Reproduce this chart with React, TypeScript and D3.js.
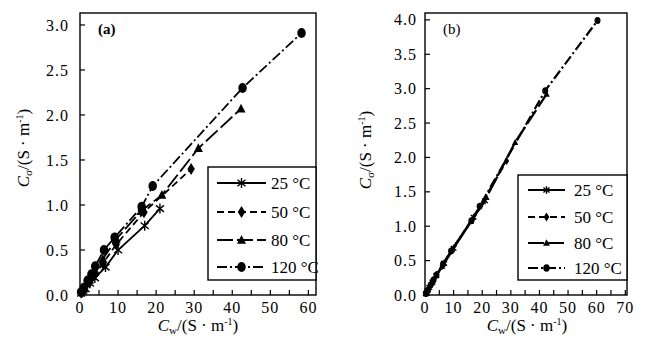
import React from "react";
import * as d3 from "d3";

// ---------- data ----------
const seriesLabels = ["25 °C", "50 °C", "80 °C", "120 °C"];
const seriesMarkers = ["asterisk", "diamond", "triangle", "circle"];

// panel (a)
const a25x = [0.3, 0.8, 1.5, 2.6, 3.9, 6.7, 10, 17, 21];
const a25y = [0.02, 0.04, 0.07, 0.13, 0.19, 0.31, 0.5, 0.77, 0.96];
const a50x = [0.5, 1.2, 2.5, 4, 6, 9.5, 16.8, 29.2];
const a50y = [0.03, 0.07, 0.14, 0.23, 0.35, 0.56, 0.92, 1.4];
const a80x = [1, 2.5, 4, 6, 9.5, 16, 21.5, 31.1, 42.3];
const a80y = [0.07, 0.17, 0.27, 0.4, 0.62, 0.93, 1.11, 1.63, 2.07];
const a120x = [0.3, 1, 2, 3, 4, 6.3, 9.1, 16.2, 19.1, 42.7, 58.2];
const a120y = [0.03, 0.08, 0.16, 0.23, 0.32, 0.5, 0.64, 0.98, 1.21, 2.3, 2.91];

// panel (b)
const b25x = [0.3, 0.8, 1.5, 2.6, 3.9, 6.7, 10, 17, 21];
const b25y = [0.02, 0.06, 0.11, 0.19, 0.28, 0.46, 0.68, 1.13, 1.37];
const b50x = [0.5, 1.2, 2.5, 4, 6, 9.5, 16.8, 28.5];
const b50y = [0.04, 0.09, 0.18, 0.29, 0.42, 0.66, 1.11, 1.95];
const b80x = [1, 2.5, 4, 6, 9.5, 16, 21.5, 31.5, 42.5];
const b80y = [0.08, 0.18, 0.29, 0.42, 0.66, 1.07, 1.42, 2.22, 2.92];
const b120x = [0.3, 1, 2, 3, 4, 6.3, 9.1, 16.2, 19.1, 42, 60.3];
const b120y = [0.02, 0.07, 0.15, 0.22, 0.29, 0.45, 0.64, 1.08, 1.29, 2.97, 3.99];

// ticks
const aXTicks = [0, 10, 20, 30, 40, 50, 60];
const aYTicks = ["0.0", "0.5", "1.0", "1.5", "2.0", "2.5", "3.0"];
const bXTicks = [0, 10, 20, 30, 40, 50, 60, 70];
const bYTicks = ["0.0", "0.5", "1.0", "1.5", "2.0", "2.5", "3.0", "3.5", "4.0"];

// ---------- styles ----------
const FONT = "'Liberation Serif', 'Times New Roman', serif";
const dashes = [null, "7,4", "16,4", "10,3,2,3"];

function zip(xs: number[], ys: number[]) {
  return xs.map((x, i) => [x, ys[i]] as [number, number]);
}

function Marker({ type, cx, cy, r }: { type: string; cx: number; cy: number; r: number }) {
  if (type === "asterisk") {
    const dx = r * 0.8, dy = r * 0.65;
    return (
      <g stroke="#000" strokeWidth={1.4} transform={`translate(${cx},${cy})`}>
        <line x1={0} y1={-r} x2={0} y2={r} />
        <line x1={-dx} y1={-dy} x2={dx} y2={dy} />
        <line x1={-dx} y1={dy} x2={dx} y2={-dy} />
      </g>
    );
  }
  if (type === "diamond") {
    return (
      <path
        d={`M${cx},${cy - r * 1.2}L${cx + r * 0.75},${cy}L${cx},${cy + r * 1.2}L${cx - r * 0.75},${cy}Z`}
        fill="#000"
      />
    );
  }
  if (type === "triangle") {
    return (
      <path d={`M${cx},${cy - r}L${cx + r * 0.9},${cy + r * 0.75}L${cx - r * 0.9},${cy + r * 0.75}Z`} fill="#000" />
    );
  }
  return <ellipse cx={cx} cy={cy} rx={r * 0.85} ry={r} fill="#000" />;
}

function AxisLabelX({ x, y, sub }: { x: number; y: number; sub: string }) {
  return (
    <text x={x} y={y} textAnchor="middle" fontSize={17} fontFamily={FONT}>
      <tspan fontStyle="italic">C</tspan>
      <tspan fontSize={11} dy={3}>{sub}</tspan>
      <tspan dy={-3}>/(S · m</tspan>
      <tspan fontSize={10} dy={-6}>-1</tspan>
      <tspan dy={6}>)</tspan>
    </text>
  );
}

function AxisLabelY({ x, y, sub }: { x: number; y: number; sub: string }) {
  return (
    <text
      transform={`translate(${x},${y}) rotate(-90)`}
      textAnchor="middle"
      fontSize={17}
      fontFamily={FONT}
    >
      <tspan fontStyle="italic">C</tspan>
      <tspan fontSize={11} dy={3}>{sub}</tspan>
      <tspan dy={-3}>/(S · m</tspan>
      <tspan fontSize={10} dy={-6}>-1</tspan>
      <tspan dy={6}>)</tspan>
    </text>
  );
}

type PanelProps = {
  xDomain: [number, number];
  yDomain: [number, number];
  left: number;
  right: number;
  top: number;
  bottom: number;
  xTicks: number[];
  yTicks: string[];
  series: [number, number][][];
  markerR: number;
  lineW: number;
  label: string;
  labelBold: boolean;
  legend: { x0: number; x1: number; y0: number; y1: number; rows: number[]; lx0: number; lx1: number; tx: number; mr: number };
  yLabelGap: number;
  xLabelPos: [number, number];
  yLabelPos: [number, number];
};

function Panel(p: PanelProps) {
  const x = d3.scaleLinear().domain(p.xDomain).range([p.left, p.right]);
  const y = d3.scaleLinear().domain(p.yDomain).range([p.bottom, p.top]);
  const minor = d3.range(0, p.xDomain[1], 5);
  const line = d3
    .line<[number, number]>()
    .x((d) => x(d[0]))
    .y((d) => y(d[1]));
  const lg = p.legend;
  return (
    <g>
      {p.series.map((s, i) => (
        <path
          key={"l" + i}
          d={line([[0, 0], ...s]) || ""}
          fill="none"
          stroke="#000"
          strokeWidth={p.lineW}
          strokeDasharray={dashes[i] || undefined}
        />
      ))}
      {p.series.map((s, i) =>
        s.map((d, j) => (
          <Marker key={`m${i}-${j}`} type={seriesMarkers[i]} cx={x(d[0])} cy={y(d[1])} r={p.markerR} />
        ))
      )}
      <rect
        x={p.left}
        y={p.top}
        width={p.right - p.left}
        height={p.bottom - p.top}
        fill="none"
        stroke="#000"
        strokeWidth={1.4}
      />
      {minor.map((t) => (
        <line key={"xt" + t} x1={x(t)} x2={x(t)} y1={p.bottom} y2={p.bottom - 5} stroke="#000" strokeWidth={1.2} />
      ))}
      {p.xTicks.map((t) => (
        <text key={"xl" + t} x={x(t)} y={p.bottom + 18} textAnchor="middle" fontSize={16} fontFamily={FONT} letterSpacing={1}>
          {t}
        </text>
      ))}
      {p.yTicks.map((t) => (
        <g key={"yt" + t}>
          <line x1={p.left} x2={p.left + 5} y1={y(+t)} y2={y(+t)} stroke="#000" strokeWidth={1.2} />
          <text
            x={p.left - p.yLabelGap}
            y={y(+t)}
            dy="0.35em"
            textAnchor="end"
            fontSize={16}
            fontFamily={FONT}
            letterSpacing={1}
          >
            {t}
          </text>
        </g>
      ))}
      <text x={p.left + 18} y={p.top + 21} fontSize={15} fontFamily={FONT} fontWeight={p.labelBold ? "bold" : "normal"}>
        {p.label}
      </text>
      <rect x={lg.x0} y={lg.y0} width={lg.x1 - lg.x0} height={lg.y1 - lg.y0} fill="#fff" stroke="#000" strokeWidth={1.4} />
      {seriesLabels.map((s, i) => (
        <g key={"lg" + i}>
          <line
            x1={lg.lx0}
            x2={lg.lx1}
            y1={lg.rows[i]}
            y2={lg.rows[i]}
            stroke="#000"
            strokeWidth={2}
            strokeDasharray={dashes[i] || undefined}
          />
          <Marker type={seriesMarkers[i]} cx={(lg.lx0 + lg.lx1) / 2} cy={lg.rows[i]} r={lg.mr} />
          <text x={lg.tx} y={lg.rows[i]} dy="0.35em" fontSize={17} fontFamily={FONT}>
            {s}
          </text>
        </g>
      ))}
      <AxisLabelX x={p.xLabelPos[0]} y={p.xLabelPos[1]} sub="w" />
      <AxisLabelY x={p.yLabelPos[0]} y={p.yLabelPos[1]} sub="σ" />
    </g>
  );
}

export default function App() {
  const seriesA = [zip(a25x, a25y), zip(a50x, a50y), zip(a80x, a80y), zip(a120x, a120y)];
  const seriesB = [zip(b25x, b25y), zip(b50x, b50y), zip(b80x, b80y), zip(b120x, b120y)];
  return (
    <svg width={655} height={352} style={{ position: "absolute", left: 0, top: 0, background: "#fff" }}>
      <rect width={655} height={352} fill="#fff" />
      <Panel
        xDomain={[0, 62]}
        yDomain={[0, 3.133]}
        left={80}
        right={316}
        top={13}
        bottom={295}
        xTicks={aXTicks}
        yTicks={aYTicks}
        series={seriesA}
        markerR={5}
        lineW={1.8}
        label="(a)"
        labelBold={true}
        legend={{ x0: 208, x1: 316, y0: 167, y1: 280, rows: [183, 212, 240, 267], lx0: 217, lx1: 266, tx: 271, mr: 5 }}
        yLabelGap={11}
        xLabelPos={[198, 331]}
        yLabelPos={[29, 148]}
      />
      <Panel
        xDomain={[0, 70.6]}
        yDomain={[0, 4.1]}
        left={425}
        right={627}
        top={13}
        bottom={295}
        xTicks={bXTicks}
        yTicks={bYTicks}
        series={seriesB}
        markerR={3.5}
        lineW={2.2}
        label="(b)"
        labelBold={false}
        legend={{ x0: 518, x1: 627, y0: 175, y1: 280, rows: [190, 217, 243, 268], lx0: 528, lx1: 565, tx: 574, mr: 3.8 }}
        yLabelGap={8}
        xLabelPos={[527, 331]}
        yLabelPos={[371, 150]}
      />
    </svg>
  );
}
